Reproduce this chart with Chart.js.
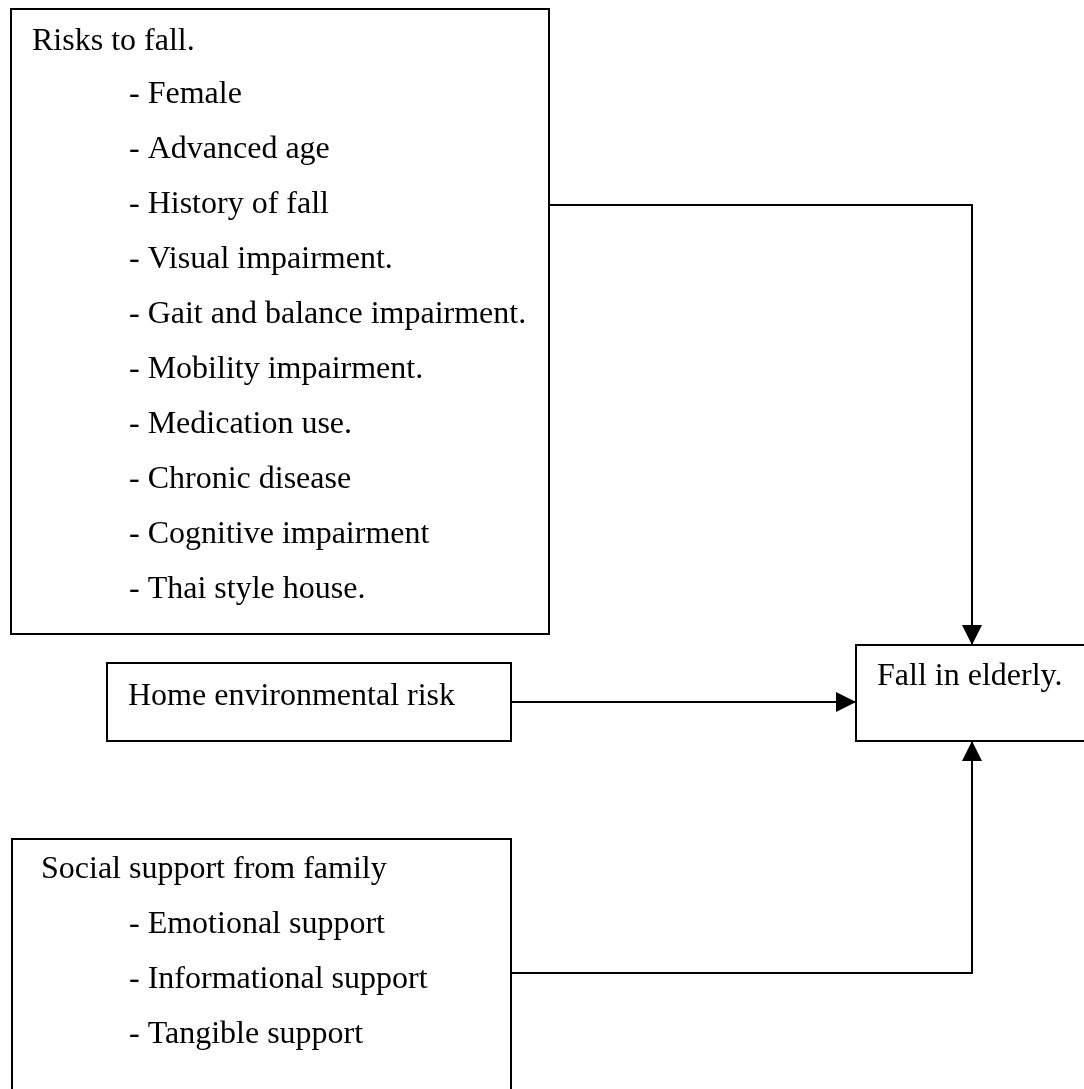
<!DOCTYPE html>
<html>
<head>
<meta charset="utf-8">
<title>Fall in elderly – conceptual framework</title>
<script src="https://cdn.jsdelivr.net/npm/chart.js@4.4.1/dist/chart.umd.min.js"></script>
<style>
  html, body { margin: 0; padding: 0; background: #ffffff; }
  #frame { display: block; }
</style>
</head>
<body>
<canvas id="frame" width="1084" height="1089"></canvas>
<script>
// ── Diagram text ──────────────────────────────────────────────────────
const riskTitle    = 'Risks to fall.';
const riskItems    = [
  '- Female',
  '- Advanced age',
  '- History of fall',
  '- Visual impairment.',
  '- Gait and balance impairment.',
  '- Mobility impairment.',
  '- Medication use.',
  '- Chronic disease',
  '- Cognitive impairment',
  '- Thai style house.',
];
const homeTitle    = 'Home environmental risk';
const supportTitle = 'Social support from family';
const supportItems = [
  '- Emotional support',
  '- Informational support',
  '- Tangible support',
];
const outcomeTitle = 'Fall in elderly.';

// ── Layout (page units = pixels of the original sheet) ────────────────
const PAGE_W = 1084;
const PAGE_H = 1089;
const FONT   = '32px "Liberation Serif", "Times New Roman", serif';
const LINE_H = 55;     // double spaced rows
const ITEM_X = 129;    // indent of the "- ..." lines

const riskBox    = { left: 11,  top: 9,   right: 549,  bottom: 634 };
const homeBox    = { left: 107, top: 663, right: 511,  bottom: 741 };
const supportBox = { left: 12,  top: 839, right: 511,  bottom: 1100 };
const outcomeBox = { left: 856, top: 645, right: 1100, bottom: 741 };

const JOIN_X = 972;    // vertical run into the outcome box

// connectors are built from the box edges
const riskLink    = [
  { x: riskBox.right, y: 205 },
  { x: JOIN_X,        y: 205 },
  { x: JOIN_X,        y: outcomeBox.top },
];
const homeLink    = [
  { x: homeBox.right,   y: 702 },
  { x: outcomeBox.left, y: 702 },
];
const supportLink = [
  { x: supportBox.right, y: 973 },
  { x: JOIN_X,           y: 973 },
  { x: JOIN_X,           y: outcomeBox.bottom },
];

// ── Plugin: boxes, labels and arrow heads ─────────────────────────────
function px(chart, x, y) {
  return [chart.scales.x.getPixelForValue(x), chart.scales.y.getPixelForValue(y)];
}

function drawBox(chart, box) {
  const ctx = chart.ctx;
  const [x0, y0] = px(chart, box.left, box.top);
  const [x1, y1] = px(chart, box.right, box.bottom);
  ctx.fillStyle = '#ffffff';
  ctx.fillRect(x0, y0, x1 - x0, y1 - y0);
  ctx.strokeStyle = '#000000';
  ctx.lineWidth = 2;
  ctx.strokeRect(x0, y0, x1 - x0, y1 - y0);
}

function drawText(chart, text, x, y) {
  const ctx = chart.ctx;
  const [cx, cy] = px(chart, x, y);
  ctx.fillStyle = '#000000';
  ctx.font = FONT;
  ctx.textBaseline = 'alphabetic';
  ctx.textAlign = 'left';
  ctx.fillText(text, cx, cy);
}

/** Filled triangle pointing from `from` towards `to`, tip on `to` */
function drawHead(chart, from, to) {
  const ctx = chart.ctx;
  const [ax, ay] = px(chart, from.x, from.y);
  const [bx, by] = px(chart, to.x, to.y);
  const len = Math.hypot(bx - ax, by - ay);
  const ux = (bx - ax) / len, uy = (by - ay) / len;
  const size = 20, half = 10;
  ctx.beginPath();
  ctx.moveTo(bx, by);
  ctx.lineTo(bx - ux * size - uy * half, by - uy * size + ux * half);
  ctx.lineTo(bx - ux * size + uy * half, by - uy * size - ux * half);
  ctx.closePath();
  ctx.fillStyle = '#000000';
  ctx.fill();
}

const diagramPlugin = {
  id: 'diagram',
  beforeDatasetsDraw(chart) {
    [riskBox, homeBox, supportBox, outcomeBox].forEach(b => drawBox(chart, b));
  },
  afterDatasetsDraw(chart) {
    drawText(chart, riskTitle, 32, 50);
    riskItems.forEach((t, i) => drawText(chart, t, ITEM_X, 103 + i * LINE_H));

    drawText(chart, homeTitle, 128, 705);
    drawText(chart, outcomeTitle, 877, 685);

    drawText(chart, supportTitle, 41, 878);
    supportItems.forEach((t, i) => drawText(chart, t, ITEM_X, 933 + i * LINE_H));

    [riskLink, homeLink, supportLink].forEach(link => {
      drawHead(chart, link[link.length - 2], link[link.length - 1]);
    });
  },
};

// ── Chart ─────────────────────────────────────────────────────────────
function linkDataset(points) {
  return {
    data: points,
    showLine: true,
    borderColor: '#000000',
    borderWidth: 2,
    pointRadius: 0,
    tension: 0,
    fill: false,
    clip: false,
  };
}

new Chart(document.getElementById('frame'), {
  type: 'scatter',
  data: {
    datasets: [riskLink, homeLink, supportLink].map(linkDataset),
  },
  options: {
    responsive: false,
    animation: false,
    devicePixelRatio: 1,
    layout: { padding: 0 },
    scales: {
      x: { type: 'linear', min: 0, max: PAGE_W, display: false },
      y: { type: 'linear', min: 0, max: PAGE_H, reverse: true, display: false },
    },
    plugins: {
      legend:  { display: false },
      tooltip: { enabled: false },
    },
  },
  plugins: [diagramPlugin],
});
</script>
</body>
</html>
